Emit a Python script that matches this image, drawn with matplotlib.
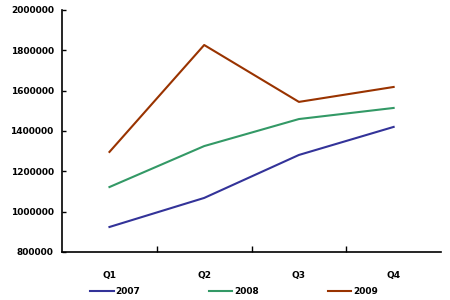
import matplotlib
matplotlib.use("Agg")
import matplotlib.pyplot as plt
from matplotlib.ticker import FixedLocator

quarters = ["Q1", "Q2", "Q3", "Q4"]
s2007 = [924000, 1068000, 1281000, 1420000]
s2008 = [1122000, 1325000, 1459000, 1514000]
s2009 = [1296000, 1826000, 1544000, 1618000]
yticks = [800000, 1000000, 1200000, 1400000, 1600000, 1800000, 2000000]

fig = plt.figure(figsize=(4.5, 3), dpi=100)
ax = fig.add_axes([0.138, 0.16, 0.842, 0.807])

x = range(len(quarters))
ax.plot(x, s2007, color="#333399", lw=1.5, label="2007")
ax.plot(x, s2008, color="#339966", lw=1.5, label="2008")
ax.plot(x, s2009, color="#993300", lw=1.5, label="2009")

ax.set_xlim(-0.5, 3.5)
ax.set_ylim(800000, 2000000)
ax.set_yticks(yticks)
ax.set_yticklabels([str(v) for v in yticks])
ax.set_xticks(list(x))
ax.set_xticklabels(quarters)
ax.xaxis.set_minor_locator(FixedLocator([0.5, 1.5, 2.5]))
ax.tick_params(axis="x", which="major", length=0, pad=14, labelsize=6.5)
ax.tick_params(axis="x", which="minor", direction="in", length=4, width=1)
ax.tick_params(axis="y", direction="in", length=3, width=1, labelsize=6.5, pad=6)
for lab in ax.get_xticklabels() + ax.get_yticklabels():
    lab.set_fontweight("bold")

ax.spines["top"].set_visible(False)
ax.spines["right"].set_visible(False)
ax.spines["left"].set_linewidth(1.2)
ax.spines["bottom"].set_linewidth(1.2)

fig.legend(loc="lower center", bbox_to_anchor=(0.52, -0.015), ncol=3, frameon=False,
           handlelength=2.6, handletextpad=0.2, columnspacing=7.6,
           prop={"size": 6.5, "weight": "bold"})

fig.savefig("out.png", dpi=100)
